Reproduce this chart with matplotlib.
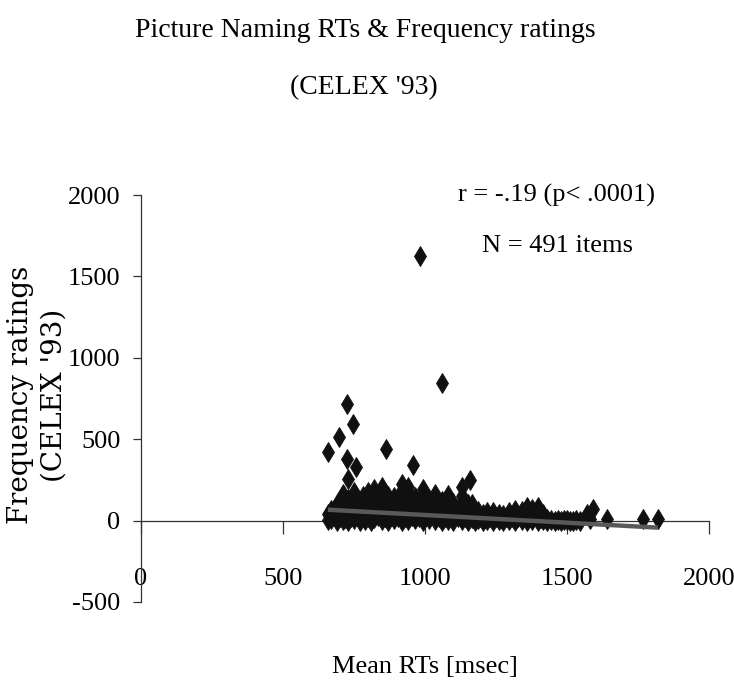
import matplotlib
matplotlib.use("Agg")
import matplotlib.pyplot as plt
import numpy as np

# ---- data ----
title_line1 = "Picture Naming RTs & Frequency ratings"
title_line2 = "(CELEX '93)"
x_label = "Mean RTs [msec]"
y_label = "Frequency ratings\n(CELEX '93)"
stat_line1 = "r = -.19 (p< .0001)"
stat_line2 = "N = 491 items"

x_ticks = [0, 500, 1000, 1500, 2000]
y_ticks = [-500, 0, 500, 1000, 1500, 2000]

# outlying items
rt_outliers = [982, 1060, 725, 746, 697, 658, 863, 725, 757, 958, 729, 1158]
freq_outliers = [1626, 847, 718, 595, 515, 423, 442, 380, 331, 344, 258, 252]

# dense body of items (RT column : frequency values)
rt_body = (
    [660]*2 + [670]*3 + [690]*4 + [700]*2 + [710]*5 + [720]*2 + [730]*4 + [740]*3
    + [750]*5 + [760]*3 + [770]*3 + [780]*4 + [790]*3 + [800]*5 + [810]*3 + [820]*5
    + [835]*3 + [850]*6 + [860]*3 + [870]*4 + [880]*2 + [890]*4 + [905]*3 + [920]*6
    + [930]*3 + [940]*5 + [955]*3 + [965]*4 + [980]*3 + [993]*5 + [1005]*2 + [1015]*3
    + [1025]*2 + [1035]*4 + [1048]*2 + [1060]*4 + [1070]*2 + [1081]*4 + [1092]*2
    + [1100]*3 + [1115]*2 + [1130]*5 + [1140]*2 + [1150]*3 + [1165]*3 + [1175]*2
    + [1185]*2 + [1195] + [1204]*2 + [1212] + [1220]*2 + [1230] + [1240]*2 + [1250]
    + [1260]*2 + [1268] + [1275]*2 + [1285] + [1295]*2 + [1305] + [1317]*3 + [1328]
    + [1340]*2 + [1350] + [1359]*3 + [1368] + [1378]*2 + [1388] + [1398]*3 + [1407]
    + [1415]*2 + [1429]*2 + [1445] + [1458] + [1470] + [1480] + [1490] + [1500]
    + [1510] + [1520] + [1532] + [1546] + [1570] + [1580] + [1592] + [1641]
    + [1767] + [1820]
)
freq_body = [
    5, 43,  10, 67, 30,  0, 40, 104, 70,  20, 60,  5, 50, 100, 166, 130,  15, 80,
    0, 45, 90, 135,  25, 60, 110,  10, 50, 95, 140, 178,  30, 75, 120,  0, 40, 85,
    20, 60, 110, 150,  5, 45, 95,  25, 70, 120, 178, 140,  0, 55, 100,
    15, 60, 110, 155, 196,  30, 80, 130,  5, 45, 95, 145, 209, 170,  20, 70, 120,
    0, 50, 100, 150,  30, 80,  10, 60, 105, 147,  25, 75, 125,
    0, 50, 100, 150, 190, 227,  20, 70, 120,  5, 55, 105, 160, 209,  30, 80, 125,
    10, 60, 105, 147,  25, 75, 120,  0, 50, 100, 150, 196,  30, 80,  10, 60, 130,
    35, 90,  5, 50, 100, 166,  25, 70,  0, 45, 90, 120,  20, 65,  5, 50, 100, 160,
    30, 75,  0, 45, 110,  20, 70,  5, 50, 100, 150, 209,  25, 70,  0, 45, 100,
    15, 60, 104,  0, 35,  10, 60,  25,  0, 43,  15,  5, 50,  20,  0, 55,  25,
    5, 40,  15,  0, 37,  20,  5, 50,  25,  0, 40, 67,  20,  5, 60,  30,
    0, 45, 86,  20,  5, 70,  35,  0, 45, 86,  15,  5, 40,  0, 12,  5,  0,  2,  0,  3,  5,
    0,  0,  2,  0,  43,  10,  74,  12,  12,  12,
]

# linear trend line as drawn in the reference (intercept, slope)
trend_intercept = 129.0
trend_slope = -0.0946

rt_all = np.array(rt_body + rt_outliers, dtype=float)
freq_all = np.array(freq_body + freq_outliers, dtype=float)

# ---- figure ----
W, H = 734, 692
fig = plt.figure(figsize=(W / 100, H / 100), dpi=100)
fig.patch.set_facecolor("white")

serif = ["Liberation Serif", "DejaVu Serif"]

ax = fig.add_axes([141 / W, 1 - 602 / H, (709 - 141) / W, (602 - 195) / H])
ax.set_facecolor("white")
ax.set_xlim(0, 2000)
ax.set_ylim(-500, 2000)

ax.plot(rt_all, freq_all, linestyle="none", marker="d", markersize=10.3,
        markerfacecolor="#101010", markeredgecolor="#101010", markeredgewidth=0.6,
        zorder=3, clip_on=False)

xt = np.array([rt_all.min(), rt_all.max()])
ax.plot(xt, trend_intercept + trend_slope * xt, color="#595959", linewidth=3.2,
        solid_capstyle="butt", zorder=4)

for s in ["top", "right"]:
    ax.spines[s].set_visible(False)
ax.spines["bottom"].set_position(("data", 0))
ax.spines["left"].set_position(("data", 0))
for s in ["bottom", "left"]:
    ax.spines[s].set_color("#333333")
    ax.spines[s].set_linewidth(0.9)
    ax.spines[s].set_zorder(2)

ax.set_xticks(x_ticks)
ax.set_xticklabels([str(v) for v in x_ticks])
ax.set_yticks(y_ticks)
ax.set_yticklabels([str(v) for v in y_ticks])
ax.tick_params(axis="x", direction="out", length=9.4, width=0.9, color="#333333",
               pad=25, labelsize=19)
ax.tick_params(axis="y", direction="out", length=5.8, width=0.9, color="#333333",
               pad=9, labelsize=19)
for lab in ax.get_xticklabels() + ax.get_yticklabels():
    lab.set_family(serif)

# titles and labels
fig.text(365 / W, 1 - 37 / H, title_line1, ha="center", va="baseline",
         fontsize=20, family=serif)
fig.text(364 / W, 1 - 94 / H, title_line2, ha="center", va="baseline",
         fontsize=20, family=serif)
fig.text(557 / W, 1 - 202 / H, stat_line1, ha="center", va="baseline",
         fontsize=19, family=serif)
fig.text(558 / W, 1 - 252 / H, stat_line2, ha="center", va="baseline",
         fontsize=19, family=serif)
fig.text(425 / W, 1 - 673 / H, x_label, ha="center", va="baseline",
         fontsize=19, family=serif)
fig.text(37 / W, 1 - 395 / H, y_label, ha="center", va="center", rotation=90,
         fontsize=20, family=["DejaVu Serif"], linespacing=1.3,
         multialignment="center")

fig.savefig("out.png", dpi=100, facecolor="white")
